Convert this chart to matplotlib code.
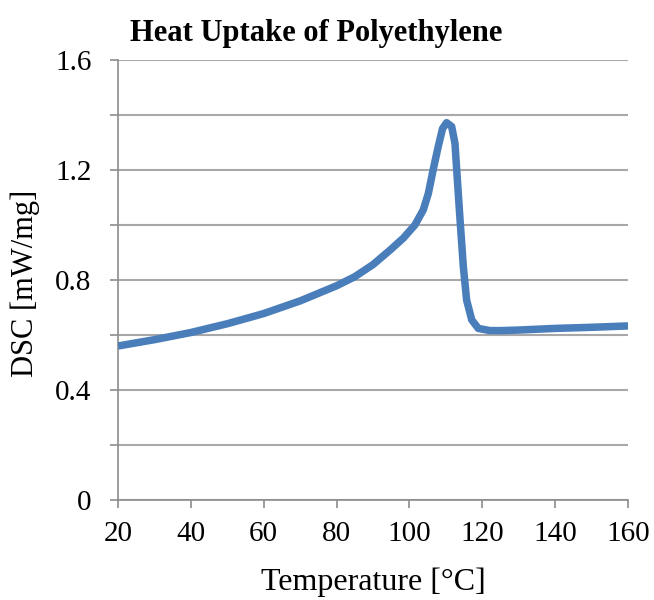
import matplotlib
matplotlib.use("Agg")
import matplotlib.pyplot as plt
import numpy as np
from matplotlib.ticker import MultipleLocator

temperature = [20, 30, 40, 50, 60, 70, 80, 85, 90, 94.7, 98.3, 101.5, 103.8, 105.2, 106.5,
               107.9, 109.1, 110.2, 111.6, 112.5, 113.1, 113.9, 114.8, 115.7, 117.1, 118.9,
               122.1, 125, 130, 140, 150, 160]
dsc = [0.560, 0.583, 0.609, 0.641, 0.678, 0.724, 0.779, 0.812, 0.856, 0.909, 0.952, 1.000,
       1.055, 1.115, 1.200, 1.285, 1.351, 1.372, 1.358, 1.297, 1.176, 1.018, 0.848, 0.727,
       0.655, 0.624, 0.616, 0.616, 0.618, 0.624, 0.628, 0.633]

title = "Heat Uptake of Polyethylene"
xlabel = "Temperature [\u00b0C]"
ylabel = "DSC [mW/mg]"
xticks = [20, 40, 60, 80, 100, 120, 140, 160]
yticks = [0, 0.4, 0.8, 1.2, 1.6]
ytick_labels = ["0", "0.4", "0.8", "1.2", "1.6"]

plt.rcParams['font.family'] = ['Liberation Serif', 'DejaVu Serif']

fig = plt.figure(figsize=(6.54, 6.0), dpi=100)
ax = fig.add_axes([118/654, 100/600, 510/654, 440/600])

ax.plot(temperature, dsc, color="#4A7EBB", lw=5.4, solid_capstyle="butt",
        solid_joinstyle="round", zorder=3)

ax.set_xlim(20, 160)
ax.set_ylim(0, 1.6)
ax.set_xticks(xticks)
ax.set_yticks(yticks)
ax.set_yticklabels(ytick_labels)
ax.yaxis.set_minor_locator(MultipleLocator(0.2))

ax.grid(True, axis="y", which="both", color="#A8A8A8", lw=1.5, zorder=0)
ax.set_axisbelow(True)

for s in ["top", "right"]:
    ax.spines[s].set_visible(False)
for s in ["left", "bottom"]:
    ax.spines[s].set_color("#8C8C8C")
    ax.spines[s].set_linewidth(1.2)

ax.tick_params(axis="both", which="both", direction="out", color="#8C8C8C", width=1.2, length=6)
ax.tick_params(axis="y", which="major", labelsize=21, pad=13)
ax.tick_params(axis="x", which="major", labelsize=21, pad=9)

fig.text(316/654, 1 - 41/600, title, fontsize=22, fontweight="bold",
         ha="center", va="baseline")
ax.set_xlabel(xlabel, fontsize=23, labelpad=15)
ax.set_ylabel(ylabel, fontsize=22)
ax.yaxis.set_label_coords((40 - 118) / 510, (500 - 283) / 440)

fig.savefig("out.png", dpi=100)
